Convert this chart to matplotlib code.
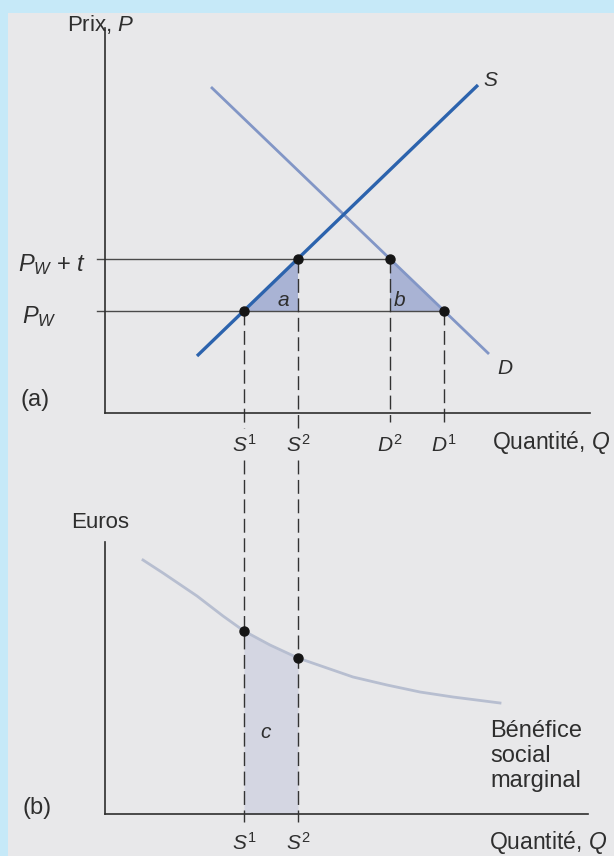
import matplotlib
matplotlib.use("Agg")
import matplotlib.pyplot as plt
from matplotlib.patches import Rectangle

plt.rcParams['font.family'] = ['Liberation Sans', 'DejaVu Sans']
plt.rcParams['mathtext.fontset'] = 'custom'
plt.rcParams['mathtext.rm'] = 'Liberation Sans'
plt.rcParams['mathtext.it'] = 'Liberation Sans:italic'
plt.rcParams['lines.scale_dashes'] = False

# quantities (1 unit = 10 px)
s1, s2 = 13.9, 19.3
d2, d1 = 28.5, 33.9
# prices
p_w, p_wt = 10.2, 15.4

# supply and demand lines (end points)
supply_q = [9.2, 37.3]
supply_p = [5.7, 32.8]
demand_q = [10.6, 38.4]
demand_p = [32.6, 5.9]

# marginal social benefit curve, panel (b)
msb_q = [3.8, 5.8, 9.2, 11.8, 13.9, 16.5, 19.3, 24.8, 28.2, 31.5, 34.8, 39.5]
msb_e = [25.4, 24.1, 21.8, 19.8, 18.3, 16.9, 15.6, 13.7, 12.9, 12.2, 11.7, 11.1]
msb_s1, msb_s2 = 18.3, 15.6

page = '#e8e8ea'
border = '#c6e9f8'
ink = '#2e2e2e'
fs = 17      # axis titles, panel tags
fs_lab = 15  # S, D, a, b, c marks

fig = plt.figure(figsize=(6.14, 8.56), dpi=100, facecolor=page)
# scanned page frame
fig.patches.append(Rectangle((0, 0), 8 / 614, 1, transform=fig.transFigure,
                             facecolor=border, edgecolor='none'))
fig.patches.append(Rectangle((0, 1 - 13 / 856), 1, 13 / 856, transform=fig.transFigure,
                             facecolor=border, edgecolor='none'))

ax_a = fig.add_axes([0, 426 / 856, 1, 430 / 856])
ax_b = fig.add_axes([0, 0, 1, 426 / 856])
ax_a.set_xlim(-10.5, 50.9)
ax_a.set_ylim(-1.7, 41.3)
ax_b.set_xlim(-10.5, 50.9)
ax_b.set_ylim(-4.2, 38.4)

for ax, ytop, xend in [(ax_a, 38.5, 48.5), (ax_b, 27.2, 48.3)]:
    ax.patch.set_visible(False)
    ax.set_xticks([])
    ax.set_yticks([])
    for side in ['top', 'right']:
        ax.spines[side].set_visible(False)
    for side in ['left', 'bottom']:
        ax.spines[side].set_position(('data', 0))
        ax.spines[side].set_color(ink)
        ax.spines[side].set_linewidth(1.2)
    ax.spines['left'].set_bounds(0, ytop)
    ax.spines['bottom'].set_bounds(0, xend)

dash = (0, (10, 4))

# ---- panel (a)
ax_a.plot([-0.8, d2], [p_wt, p_wt], color='#4a4a4a', lw=1.0, clip_on=False)
ax_a.plot([-0.8, d1], [p_w, p_w], color='#4a4a4a', lw=1.0, clip_on=False)

ax_a.fill([s1, s2, s2], [p_w, p_wt, p_w], color='#a9b3d4', lw=0, zorder=1)
ax_a.fill([d2, d2, d1], [p_wt, p_w, p_w], color='#a9b3d4', lw=0, zorder=1)

ax_a.plot(demand_q, demand_p, color='#8296c6', lw=2.0, solid_capstyle='butt', zorder=3)
ax_a.plot(supply_q, supply_p, color='#2c63ad', lw=2.4, solid_capstyle='butt', zorder=4)

ax_a.plot([s1, s1], [p_w, -1.5], color='#333333', lw=1.0, linestyle=dash, clip_on=False)
ax_a.plot([s2, s2], [p_wt, -1.5], color='#333333', lw=1.0, linestyle=dash, clip_on=False)
ax_a.plot([d2, d2], [p_wt, -0.9], color='#333333', lw=1.0, linestyle=dash, clip_on=False)
ax_a.plot([d1, d1], [p_w, -0.9], color='#333333', lw=1.0, linestyle=dash, clip_on=False)

ax_a.plot([s1, s2, d2, d1], [p_w, p_wt, p_wt, p_w], 'o', color='#151515',
          markersize=6.5, zorder=5, clip_on=False)

ax_a.text(-0.4, 38.85, 'Prix, $P$', fontsize=16, ha='center', va='center', color=ink)
ax_a.text(-8.7, 14.8, '$P_W$ + $t$', fontsize=fs, ha='left', va='center', color=ink)
ax_a.text(-8.3, 9.6, '$P_W$', fontsize=fs, ha='left', va='center', color=ink)
ax_a.text(-7.0, 1.3, '(a)', fontsize=fs, ha='center', va='center', color=ink)
ax_a.text(38.6, 33.3, '$S$', fontsize=fs_lab, ha='center', va='center', color=ink)
ax_a.text(40.0, 4.5, '$D$', fontsize=fs_lab, ha='center', va='center', color=ink)
ax_a.text(17.8, 11.3, '$a$', fontsize=fs_lab, ha='center', va='center', color=ink)
ax_a.text(29.4, 11.3, '$b$', fontsize=fs_lab, ha='center', va='center', color=ink)

for q, lab in [(s1, '$S^1$'), (s2, '$S^2$'), (d2, '$D^2$'), (d1, '$D^1$')]:
    ax_a.text(q, -3.2, lab, fontsize=fs_lab, ha='center', va='center', color=ink)
ax_a.text(38.7, -3.0, 'Quantité, $Q$', fontsize=16.5, ha='left', va='center', color=ink)

# ---- panel (b)
ax_b.fill_between([s1, s2], [msb_s1, msb_s2], 0, color='#d4d6e2', lw=0, zorder=1)
ax_b.plot(msb_q, msb_e, color='#b7bed0', lw=2.0, zorder=3)

for q in [s1, s2]:
    ax_b.plot([q, q], [35.4, -0.8], color='#333333', lw=1.0, linestyle=dash,
              clip_on=False, zorder=4)

ax_b.plot([s1, s2], [msb_s1, msb_s2], 'o', color='#151515', markersize=6.5, zorder=5)

ax_b.text(-0.5, 29.2, 'Euros', fontsize=16, ha='center', va='center', color=ink)
ax_b.text(16.1, 8.2, '$c$', fontsize=fs_lab, ha='center', va='center', color=ink)
ax_b.text(-6.8, 0.6, '(b)', fontsize=fs, ha='center', va='center', color=ink)
ax_b.text(38.5, 5.8, 'Bénéfice\nsocial\nmarginal', fontsize=fs, ha='left', va='center',
          linespacing=1.17, color=ink)
ax_b.text(s1, -2.9, '$S^1$', fontsize=fs_lab, ha='center', va='center', color=ink)
ax_b.text(s2, -2.9, '$S^2$', fontsize=fs_lab, ha='center', va='center', color=ink)
ax_b.text(38.4, -2.9, 'Quantité, $Q$', fontsize=16.5, ha='left', va='center', color=ink)

fig.savefig('out.png', dpi=100, facecolor=page)
